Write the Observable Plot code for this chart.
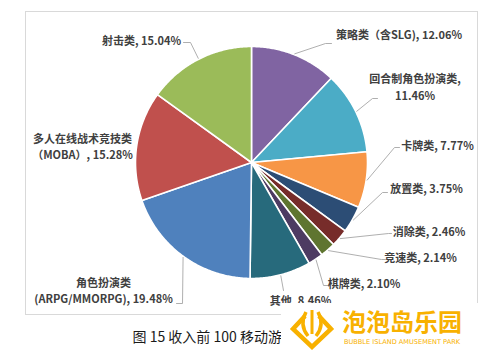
<!DOCTYPE html>
<html>
<head>
<meta charset="utf-8">
<script src="https://cdn.jsdelivr.net/npm/d3@7"></script>
<script src="https://cdn.jsdelivr.net/npm/@observablehq/plot@0.6"></script>
<style>
  html, body { margin: 0; padding: 0; background: #fff; }
  #chart { position: relative; width: 480px; height: 354px; }
</style>
</head>
<body>
<div id="chart"></div>
<script>
// ---- data ----
const categories = ["策略类（含SLG)", "回合制角色扮演类", "卡牌类", "放置类", "消除类", "竞速类", "棋牌类", "其他", "角色扮演类\n(ARPG/MMORPG)", "多人在线战术竞技类\n（MOBA）", "射击类"];
const shares = [12.06, 11.46, 7.77, 3.75, 2.46, 2.14, 2.10, 8.46, 19.48, 15.28, 15.04];
const labelSeparators = [", ", ",\n", ", ", ", ", ", ", ", ", ", ", ", ", ", ", ", ", ", "];
const captionText = "图 15 收入前 100 移动游";
const logoTitle = "泡泡岛乐园";
const logoSubtitle = "BUBBLE ISLAND AMUSEMENT PARK";

// ---- styles / layout ----
const colors = ["#8064A2", "#4BACC6", "#F79646", "#2C4D75", "#772C2A", "#5F7530", "#4D3B62", "#276A7C", "#4F81BD", "#C0504D", "#9BBB59"];
const W = 480, H = 354;
const cx = 251, cy = 162, R = 116;
// label centre positions (layout)
const labelPos = [[398.5, 33], [414.5, 85.5], [437, 144], [426, 187], [428.5, 230], [420, 256], [363.5, 282], [300, 299], [103, 289], [82, 145], [141, 39]];
// leader line bends/ends near labels (layout); null = no leader
const leaderTail = [
  [[325, 43], [331, 43]],
  [[372, 98], [377, 98]],
  [[394, 147], [399, 147]],
  [[382, 192], [387, 192]],
  [[388, 233], [391, 233]],
  [[381, 259], [385, 259]],
  [[323, 285], [327, 285]],
  [[283, 290]],
  [[182, 303], [176, 303]],
  null,
  [[190, 42], [183, 42]]
];

const pie = d3.pie().sort(null).value(d => d).startAngle(0).endAngle(2 * Math.PI)(shares);
const px = (a, r) => cx + r * Math.sin(a);
const py = (a, r) => cy - r * Math.cos(a);

const slicePts = [];
pie.forEach((p, i) => {
  const name = categories[i];
  slicePts.push({name, x: cx, y: cy});
  const n = Math.max(2, Math.ceil((p.endAngle - p.startAngle) / 0.01));
  for (let k = 0; k <= n; k++) {
    const a = p.startAngle + (p.endAngle - p.startAngle) * k / n;
    slicePts.push({name, x: px(a, R), y: py(a, R)});
  }
});

const leaderPts = [];
pie.forEach((p, i) => {
  const tail = leaderTail[i];
  if (!tail) return;
  const mid = (p.startAngle + p.endAngle) / 2;
  const name = categories[i];
  leaderPts.push({name, x: px(mid, R + 1), y: py(mid, R + 1)});
  tail.forEach(([x, y]) => leaderPts.push({name, x, y}));
});

const labels = pie.map((p, i) => ({
  name: categories[i],
  x: labelPos[i][0],
  y: labelPos[i][1],
  text: categories[i] + labelSeparators[i] + shares[i].toFixed(2) + "%"
}));

const font = "'Noto Sans CJK SC', 'Noto Sans', sans-serif";

const chart = Plot.plot({
  width: W,
  height: H,
  margin: 0,
  x: {domain: [0, W], range: [0, W], axis: null},
  y: {domain: [0, H], range: [0, H], axis: null},
  color: {domain: categories, range: colors},
  style: {fontFamily: font, background: "#fff", overflow: "visible"},
  marks: [
    Plot.rect([{x1: 25.5, x2: 477.5, y1: 11.5, y2: 314.5}], {x1: "x1", x2: "x2", y1: "y1", y2: "y2", fill: "none", stroke: "#D9D9D9", strokeWidth: 1}),
    Plot.line(slicePts, {x: "x", y: "y", z: "name", fill: "name", stroke: "#fff", strokeWidth: 1.6, strokeLinejoin: "round", curve: "linear-closed"}),
    Plot.line(leaderPts, {x: "x", y: "y", z: "name", stroke: "#A6A6A6", strokeWidth: 0.9}),
    Plot.text(labels, {x: "x", y: "y", text: "text", fontSize: 11, fontWeight: "bold", fill: "#404040", lineHeight: 1.5}),
    Plot.text([captionText], {x: () => 132, y: () => 337, text: d => d, textAnchor: "start", fontSize: 14, fill: "#1a1a1a"}),
    Plot.rect([0], {x1: () => 281, x2: () => 480, y1: () => 303, y2: () => 354, fill: "#fff"}),
    Plot.text([logoTitle], {x: () => 401.5, y: () => 323, text: d => d, fontSize: 24, fontWeight: "bold", fill: "#F8B100"}),
    Plot.text([logoSubtitle], {x: () => 401.5, y: () => 341.5, text: d => d, fontSize: 6.6, fill: "#F8B100", fontFamily: "'DejaVu Sans', sans-serif"})
  ]
});
document.getElementById("chart").appendChild(chart);

// logo icon (decoration)
const svg = d3.select(chart);
const g = svg.append("g").attr("fill", "none").attr("stroke", "#F8B100").attr("stroke-width", 4.5);
g.append("path").attr("d", "M305,316 L293,329 L312,347 L331,329 L319,316").attr("stroke-linejoin", "miter");
g.append("path").attr("d", "M306,312 Q299,325 308,336").attr("stroke-width", 3.5);
g.append("path").attr("d", "M318,312 Q325,325 316,336").attr("stroke-width", 3.5);
g.append("path").attr("d", "M312,310 L312,334").attr("stroke-width", 3);
</script>
</body>
</html>
